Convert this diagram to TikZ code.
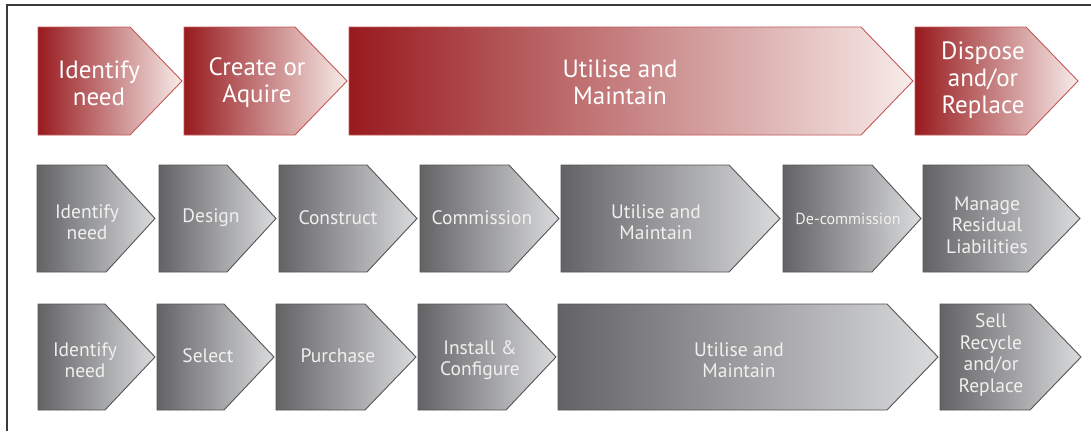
\documentclass[tikz,border=0pt]{standalone}
\usepackage{fontspec}
\setmainfont{PT Sans}
\begin{document}
\begin{tikzpicture}[x=1pt,y=-1pt,
  redbox/.style={left color=redA, middle color=redB, right color=redC, draw=redE, line width=0.9pt},
  greybox/.style={left color=greyA, middle color=greyB, right color=greyC, draw=greyE, line width=0.9pt},
  redlabel/.style={text=white, align=center, inner sep=0pt, font=\fontsize{25}{27}\selectfont},
  greylabel/.style={text=white!94!black, align=center, inner sep=0pt, font=\fontsize{19.5}{21.5}\selectfont},
  smalllabel/.style={greylabel, font=\fontsize{16}{18}\selectfont}]
\definecolor{redA}{HTML}{981A1E}
\definecolor{redB}{HTML}{B85E50}
\definecolor{redC}{HTML}{F7ECE9}
\definecolor{redE}{HTML}{C4585A}
\definecolor{greyA}{HTML}{636365}
\definecolor{greyB}{HTML}{9C9C9E}
\definecolor{greyC}{HTML}{DADBDD}
\definecolor{greyE}{HTML}{555555}
\definecolor{frame}{HTML}{3A3A3A}
% chevron: style, left, body end, tip, top, bottom
\newcommand\chevron[6]{%
  \path[#1] (#2,#5) -- (#3,#5) -- (#4,{(#5+#6)/2}) -- (#3,#6) -- (#2,#6) -- cycle;}
\useasboundingbox (0,0) rectangle (1091,431);
\fill[white] (0,0) rectangle (1091,431);
% frame
\draw[frame, line width=1.5pt] (7,431) -- (7,5) -- (1091,5);

% lifecycle overview
\chevron{redbox}{38}{130}{182}{27}{135}
\chevron{redbox}{184}{295}{347}{27}{135}
\chevron{redbox}{349}{861}{913}{27}{135}
\chevron{redbox}{915}{1026}{1078}{27}{135}
\node[redlabel] (r1) at (99,83) {Identify\\need};
\node[redlabel] (r2) at (257,83) {Create or\\Aquire};
\node[redlabel] (r3) at (620,82) {Utilise and\\Maintain};
\node[redlabel] (r4) at (983,80) {Dispose\\and/or\\Replace};

% built assets
\chevron{greybox}{37}{106}{155}{165}{272}
\chevron{greybox}{159}{227}{276}{165}{272}
\chevron{greybox}{279}{367}{417}{165}{272}
\chevron{greybox}{420}{509}{559}{165}{272}
\chevron{greybox}{561}{729}{780}{165}{272}
\chevron{greybox}{783}{872}{921}{165}{272}
\chevron{greybox}{923}{1028}{1080}{165}{272}
\node[greylabel] (b1) at (87,222) {Identify\\need};
\node[greylabel] (b2) at (211,218) {Design};
\node[greylabel] (b3) at (338,218) {Construct};
\node[greylabel] (b4) at (482,218) {Commission};
\node[greylabel] (b5) at (656,222) {Utilise and\\Maintain};
\node[smalllabel] (b6) at (848,219) {De-commission};
\node[greylabel] (b7) at (987,225) {Manage\\Residual\\Liabilities};

% purchased assets
\chevron{greybox}{38}{105}{155}{304}{410}
\chevron{greybox}{157}{224}{274}{304}{410}
\chevron{greybox}{276}{365}{416}{304}{410}
\chevron{greybox}{418}{506}{556}{304}{410}
\chevron{greybox}{558}{887}{938}{304}{410}
\chevron{greybox}{940}{1030}{1081}{304}{410}
\node[greylabel] (p1) at (85,360) {Identify\\need};
\node[greylabel] (p2) at (208,356) {Select};
\node[greylabel] (p3) at (338,356) {Purchase};
\node[greylabel] (p4) at (480,360) {Install \&\\Configure};
\node[greylabel] (p5) at (739,360) {Utilise and\\Maintain};
\node[greylabel] (p6) at (991,355) {Sell\\Recycle\\and/or\\Replace};
\end{tikzpicture}
\end{document}
